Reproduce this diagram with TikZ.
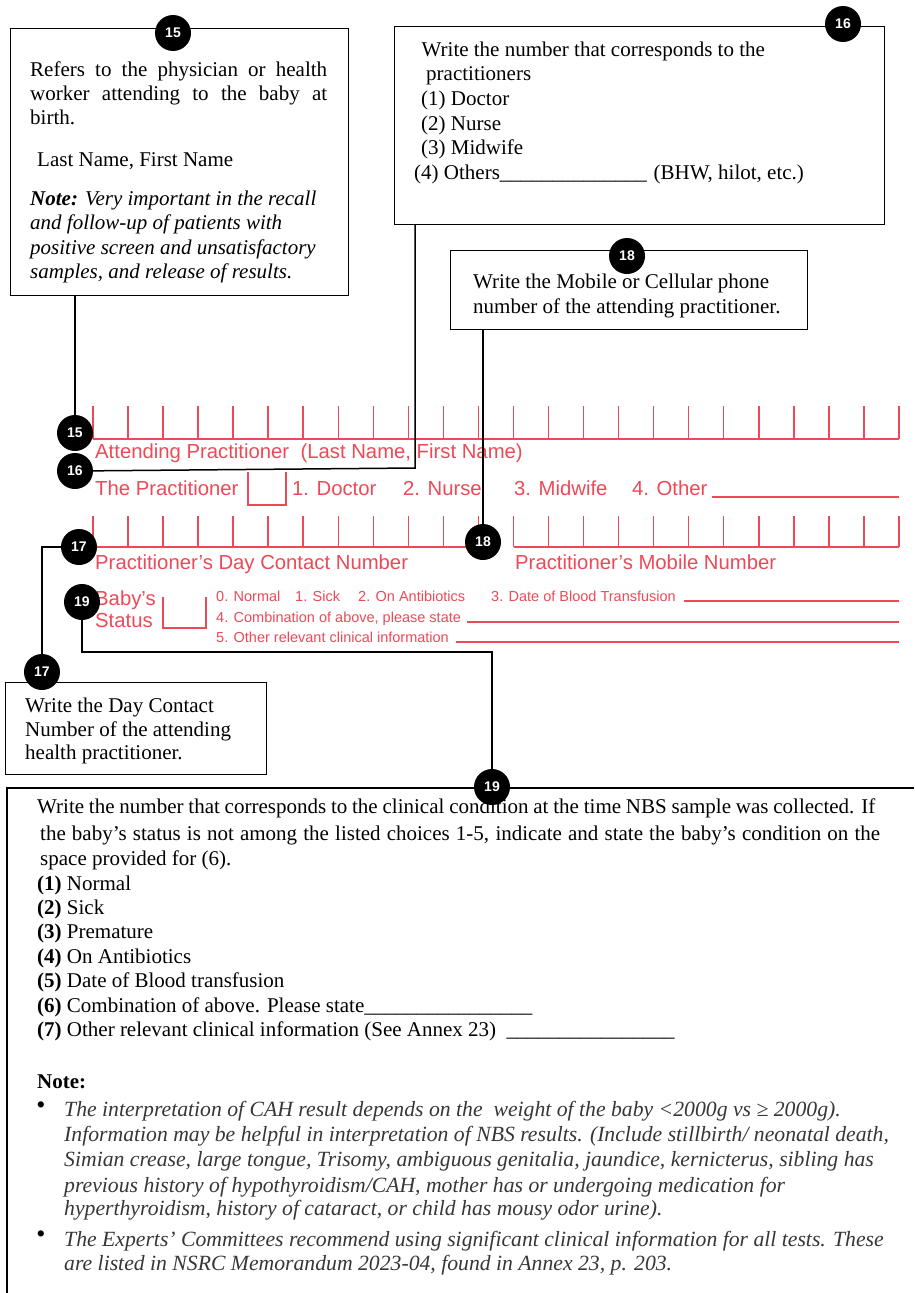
\documentclass[tikz,border=0pt]{standalone}
\usepackage{fontspec}
\setmainfont{Liberation Serif}
\newfontfamily\formsans{Liberation Sans}
\definecolor{formred}{RGB}{236,74,88}
\definecolor{notegray}{RGB}{55,55,55}

\begin{document}
\begin{tikzpicture}[x=1pt,y=-1pt,
  infobox/.style={draw=black, line width=1.1pt, inner sep=0, anchor=north west},
  badge/.style={circle, fill=black, minimum size=36pt, inner sep=0, text=white,
    font=\formsans\bfseries\fontsize{14}{14}\selectfont},
  wire/.style={draw=black, line width=1.5pt},
  redline/.style={draw=formred, line width=1.5pt},
  note/.style={anchor=base west, inner sep=0, font=\fontsize{21}{24}\selectfont},
  bullettext/.style={anchor=base west, inner sep=0, text=notegray,
    font=\itshape\fontsize{21.7}{24}\selectfont},
  bulletmark/.style={inner sep=0, font=\fontsize{26}{26}\selectfont},
  redbig/.style={anchor=base west, inner sep=0, text=formred,
    font=\formsans\fontsize{20.3}{22}\selectfont},
  redsmall/.style={anchor=base west, inner sep=0, text=formred,
    font=\formsans\fontsize{14.5}{16}\selectfont},
]
\useasboundingbox (0,0) rectangle (914,1293);
\fill[white] (0,0) rectangle (914,1293);

% ---------- explanation boxes ----------
\node[infobox, minimum width=338pt, minimum height=267pt] (box15) at (9.5,27.5) {};
\node[infobox, minimum width=490.5pt, minimum height=198pt] (box16) at (393.5,26) {};
\node[infobox, minimum width=357pt, minimum height=79pt] (box18) at (450,250) {};
\node[infobox, minimum width=261pt, minimum height=92pt] (box17) at (5,682) {};
\coordinate (box19nw) at (7,788);
\draw[line width=1.1pt] (914,788) -- (box19nw) -- (7,1293);

% box 15
\node[note] at (30,76) {\makebox[297pt][s]{Refers to the physician or health}};
\node[note] at (30,100.5) {\makebox[297pt][s]{worker attending to the baby at}};
\node[note] at (30,124.5) {birth.};
\node[note] at (37,166) {Last Name, First Name};
\node[note] at (30,205) {\textbf{\textit{Note:}} \textit{Very important in the recall}};
\node[note] at (30,229) {\textit{and follow-up of patients with}};
\node[note] at (30,254) {\textit{positive screen and unsatisfactory}};
\node[note] at (30,278) {\textit{samples, and release of results.}};

% box 16
\node[note] at (421.5,56) {Write the number that corresponds to the};
\node[note] at (426,80.7) {practitioners};
\node[note] at (421,105) {(1) Doctor};
\node[note] at (421,130) {(2) Nurse};
\node[note] at (421,154) {(3) Midwife};
\node[note] at (414,179) {(4) Others\_\_\_\_\_\_\_\_\_\_\_\_\_\_\hspace{1.5pt} (BHW, hilot, etc.)};

% box 18
\node[note] at (473,288) {Write the Mobile or Cellular phone};
\node[note] at (473,313) {number of the attending practitioner.};

% box 17
\node[note] at (25,712) {Write the Day Contact};
\node[note] at (25,736) {Number of the attending};
\node[note] at (25,759) {health practitioner.};

% box 19
\node[note] at (37,813) {\makebox[838pt][s]{Write the number that corresponds to the clinical condition at the time NBS sample was collected. If}};
\node[note] at (40,840) {\makebox[840pt][s]{the baby’s status is not among the listed choices 1-5, indicate and state the baby’s condition on the}};
\node[note] at (40,865) {space provided for (6).};
\node[note] at (37,890) {\textbf{(1)} Normal};
\node[note] at (37,914) {\textbf{(2)} Sick};
\node[note] at (37,938) {\textbf{(3)} Premature};
\node[note] at (37,963) {\textbf{(4)} On Antibiotics};
\node[note] at (37,987) {\textbf{(5)} Date of Blood transfusion};
\node[note] at (37,1012) {\textbf{(6)} Combination of above. Please state\_\_\_\_\_\_\_\_\_\_\_\_\_\_\_\_};
\node[note] at (37,1036) {\textbf{(7)} Other relevant clinical information (See Annex 23)\ \ \_\_\_\_\_\_\_\_\_\_\_\_\_\_\_\_};
\node[note] (notehead) at (37,1088) {\textbf{Note:}};

\node[bulletmark] (bul1) at (41,1108) {•};
\node[bullettext] at (64,1116) {The interpretation of CAH result depends on the\ \ weight of the baby <2000g vs ≥ 2000g).};
\node[bullettext] at (64,1141) {Information may be helpful in interpretation of NBS results. (Include stillbirth/ neonatal death,};
\node[bullettext] at (64,1166) {Simian crease, large tongue, Trisomy, ambiguous genitalia, jaundice, kernicterus, sibling has};
\node[bullettext] at (64,1192) {previous history of hypothyroidism/CAH, mother has or undergoing medication for};
\node[bullettext] at (64,1215) {hyperthyroidism, history of cataract, or child has mousy odor urine).};
\node[bulletmark] (bul2) at (41,1237) {•};
\node[bullettext] at (64,1246) {The Experts’ Committees recommend using significant clinical information for all tests. These};
\node[bullettext] at (64,1270) {are listed in NSRC Memorandum 2023-04, found in Annex 23, p. 203.};

% ---------- red form section ----------
% name row
\foreach \i in {0,...,23}
  \draw[redline] ({93+35.04*\i},406) -- ({93+35.04*\i},439);
\draw[redline] (93,439) -- (899,439);
\node[redbig] (lblname) at (95,458) {Attending Practitioner\ \ (Last Name, First Name)};

% practitioner type row
\node[redbig] (lblpract) at (95,495) {The Practitioner};
\draw[redline] (248,472) -- (248,505) -- (286,505) -- (286,472);
\node[redbig] at (292,495) {1. Doctor};
\node[redbig] at (403,495) {2. Nurse};
\node[redbig] at (514,495) {3. Midwife};
\node[redbig] at (632,495) {4. Other};
\draw[redline] (712,497) -- (899,497);

% contact number rows
\foreach \i in {0,...,23}
  \draw[redline] ({93+35.04*\i},516) -- ({93+35.04*\i},547);
\draw[redline] (93,547) -- (478.5,547);
\draw[redline] (513.5,547) -- (899,547);
\node[redbig] (lblday) at (95,569) {Practitioner’s Day Contact Number};
\node[redbig] (lblmob) at (515,569) {Practitioner’s Mobile Number};

% baby's status rows
\node[redbig] (lblbaby) at (95,605) {Baby’s};
\node[redbig] at (95,627) {Status};
\draw[redline] (163,597) -- (163,628) -- (206,628) -- (206,597);
\node[redsmall] at (216,601) {0. Normal};
\node[redsmall] at (295,601) {1. Sick};
\node[redsmall] at (358,601) {2. On Antibiotics};
\node[redsmall] at (491,601) {3. Date of Blood Transfusion};
\draw[redline, line width=1.3pt] (684,601) -- (899,601);
\node[redsmall] at (216,622) {4. Combination of above, please state};
\draw[redline, line width=1.3pt] (467,622) -- (899,622);
\node[redsmall] at (216,642) {5. Other relevant clinical information};
\draw[redline, line width=1.3pt] (456,642) -- (899,642);

% ---------- badges ----------
\node[badge] (b15) at (173,33) {15};
\node[badge] (b16) at (843,24) {16};
\node[badge] (b18) at (627,256) {18};
\node[badge] (b17) at (42,672) {17};
\node[badge] (b19) at (492,787) {19};
\node[badge] (b15a) at (75,433) {15};
\node[badge] (b16a) at (75,471) {16};
\node[badge] (b17a) at (79,547) {17};
\node[badge] (b18a) at (483,542) {18};
\node[badge] (b19a) at (82,602) {19};

% ---------- connectors ----------
\coordinate (k16) at (415,468);
\coordinate (k19) at (492,652);
\draw[wire] (b15a |- box15.south) -- (b15a);
\draw[wire] (k16 |- box16.south) -- (k16) -- (b16a);
\draw[wire] (b18a |- box18.south) -- (b18a);
\draw[wire] (b17a) -| (b17);
\draw[wire] (b19a) |- (k19) -- (b19);
\end{tikzpicture}
\end{document}
